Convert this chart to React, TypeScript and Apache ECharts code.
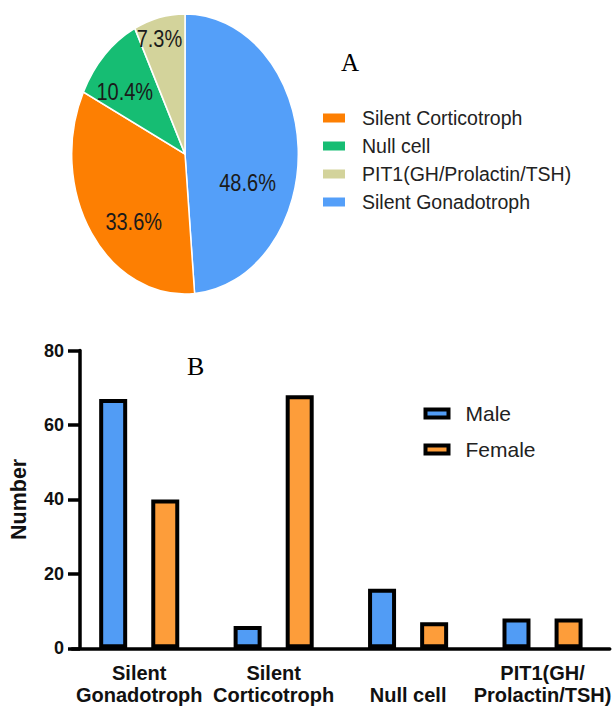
import React, { useEffect, useRef } from "react";
import * as echarts from "echarts";

const pieNames = ["Silent Gonadotroph", "Silent Corticotroph", "Null cell", "PIT1(GH/Prolactin/TSH)"];
const piePercents = [48.6, 33.6, 10.4, 7.3];
const pieLegendOrder = ["Silent Corticotroph", "Null cell", "PIT1(GH/Prolactin/TSH)", "Silent Gonadotroph"];

const categories = ["Silent Gonadotroph", "Silent Corticotroph", "Null cell", "PIT1(GH/Prolactin/TSH)"];
const tickLabels = ["Silent\nGonadotroph", "Silent\nCorticotroph", "\nNull cell", "PIT1(GH/\nProlactin/TSH)"];
const maleValues = [67, 6, 16, 8];
const femaleValues = [40, 68, 7, 8];
const yTicks = [0, 20, 40, 60, 80];

const pieColors = ["#549ff9", "#fd7f02", "#16bd73", "#d3d39b"];
const labelOffsets: [number, number][] = [
  [3, 26],
  [-2, 21],
  [-18, -8],
  [-12, -35],
];
const SANS = "'Liberation Sans', Arial, sans-serif";
const SERIF = "'Liberation Serif', 'Times New Roman', serif";

export default function App() {
  const mainRef = useRef<HTMLDivElement>(null);
  const pieRef = useRef<HTMLDivElement>(null);

  useEffect(() => {
    const main = echarts.init(mainRef.current!, undefined, { renderer: "svg" });
    const pie = echarts.init(pieRef.current!, undefined, { renderer: "svg" });

    const pieData = pieNames.map((n, i) => ({
      name: n,
      value: piePercents[i],
      itemStyle: { color: pieColors[i] },
      label: { offset: labelOffsets[i] },
    }));

    pie.setOption({
      animation: false,
      series: [
        {
          type: "pie",
          center: [120, 120],
          radius: 113.3,
          startAngle: 90,
          clockwise: true,
          silent: true,
          itemStyle: { borderColor: "#ffffff", borderWidth: 1.5 },
          label: {
            show: true,
            position: "inside",
            formatter: "{c}%",
            color: "#1a1a1a",
            fontFamily: SANS,
            fontSize: 20,
          },
          labelLine: { show: false },
          data: pieData,
        },
      ],
    });

    main.setOption({
      animation: false,
      legend: [
        {
          data: pieLegendOrder,
          orient: "vertical",
          left: 318,
          top: 103,
          itemWidth: 22,
          itemHeight: 9,
          itemGap: 8,
          icon: "rect",
          selectedMode: false,
          textStyle: { fontFamily: SANS, fontSize: 19.5, color: "#222", padding: [0, 0, 0, 12] },
        },
        {
          data: ["Male", "Female"],
          orient: "vertical",
          left: 418.5,
          top: 398,
          itemWidth: 23,
          itemHeight: 8,
          itemGap: 15,
          icon: "rect",
          selectedMode: false,
          itemStyle: { borderColor: "#000", borderWidth: 4 },
          textStyle: { fontFamily: SANS, fontSize: 21, color: "#222", padding: [0, 0, 0, 12] },
        },
      ],
      graphic: [
        {
          type: "text",
          left: 341,
          top: 50,
          style: { text: "A", font: `25px ${SERIF}`, fill: "#000" },
        },
        {
          type: "text",
          left: 187,
          top: 353,
          style: { text: "B", font: `26px ${SERIF}`, fill: "#000" },
        },
      ],
      grid: { left: 69.4, right: 3.4, top: 350.5, bottom: 58.7, containLabel: false },
      xAxis: {
        type: "category",
        data: categories,
        axisLine: { lineStyle: { color: "#000", width: 3.5 } },
        axisTick: { alignWithLabel: true, length: 10, lineStyle: { color: "#000", width: 3.5 } },
        axisLabel: {
          interval: 0,
          margin: 14,
          formatter: (_v: string, i: number) => tickLabels[i],
          fontFamily: SANS,
          fontWeight: "bold",
          fontSize: 20,
          lineHeight: 22,
          color: "#111",
        },
      },
      yAxis: {
        type: "value",
        min: yTicks[0],
        max: yTicks[yTicks.length - 1],
        interval: 20,
        offset: -8,
        name: "Number",
        nameLocation: "middle",
        nameRotate: 90,
        nameGap: 50,
        nameTextStyle: { fontFamily: SANS, fontWeight: "bold", fontSize: 21.5, color: "#111" },
        axisLine: { show: true, lineStyle: { color: "#000", width: 3.5 } },
        axisTick: { show: true, length: 12, lineStyle: { color: "#000", width: 3.5 } },
        splitLine: { show: false },
        axisLabel: {
          margin: 16,
          fontFamily: SANS,
          fontWeight: "bold",
          fontSize: 18,
          color: "#111",
        },
      },
      series: [
        {
          type: "pie",
          center: [-300, -300],
          radius: 1,
          silent: true,
          label: { show: false },
          labelLine: { show: false },
          itemStyle: { borderWidth: 0 },
          data: pieNames.map((n, i) => ({ name: n, value: piePercents[i], itemStyle: { color: pieColors[i] } })),
        },
        {
          name: "Male",
          type: "bar",
          data: maleValues,
          barWidth: 28,
          barGap: "86%",
          itemStyle: { color: "#519cf5", borderColor: "#000", borderWidth: 4 },
        },
        {
          name: "Female",
          type: "bar",
          data: femaleValues,
          barWidth: 28,
          barGap: "86%",
          itemStyle: { color: "#fd9d3a", borderColor: "#000", borderWidth: 4 },
        },
      ],
    });

    return () => {
      main.dispose();
      pie.dispose();
    };
  }, []);

  return (
    <div style={{ position: "fixed", left: 0, top: 0, width: 614, height: 707, background: "#fff" }}>
      <div ref={mainRef} style={{ position: "absolute", left: 0, top: 0, width: 614, height: 707 }} />
      <div
        ref={pieRef}
        style={{
          position: "absolute",
          left: 65,
          top: 33.7,
          width: 240,
          height: 240,
          transform: "scaleY(1.238)",
          transformOrigin: "50% 50%",
        }}
      />
    </div>
  );
}
